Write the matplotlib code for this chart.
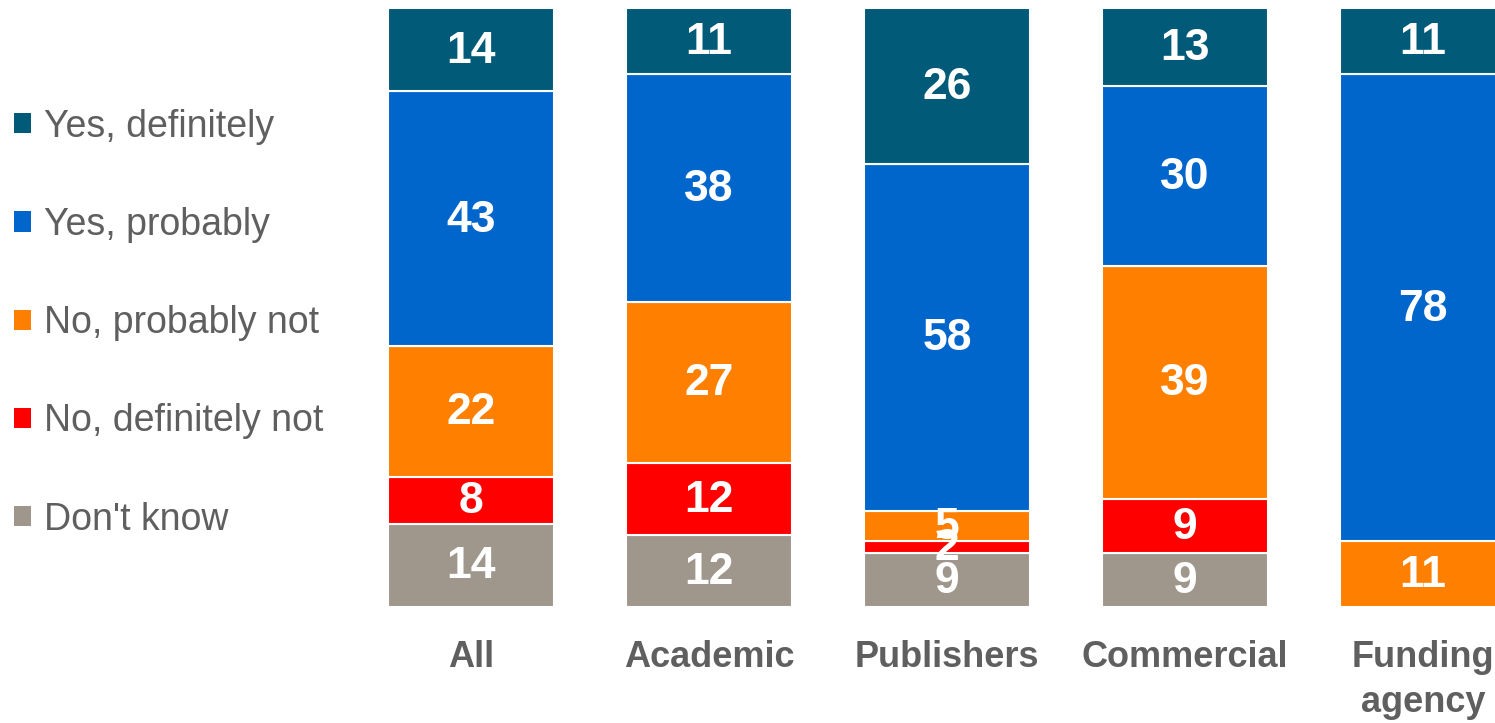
import matplotlib.pyplot as plt
from matplotlib.patches import Patch
import numpy as np

plt.rcParams['font.family'] = ['Liberation Sans', 'DejaVu Sans']

categories = ['All', 'Academic', 'Publishers', 'Commercial', 'Funding\nagency']
series = ['Yes, definitely', 'Yes, probably', 'No, probably not',
          'No, definitely not', "Don't know"]

# values per series, one per category (percent)
dont_know = [14, 12, 9, 9, 0]
no_def = [8, 12, 2, 9, 0]
no_prob = [22, 27, 5, 39, 11]
yes_prob = [43, 38, 58, 30, 78]
yes_def = [14, 11, 26, 13, 11]

colors = ['#005A78', '#0066CC', '#FF8000', '#FF0000', '#A0978C']
text_grey = '#5F5F5F'

fig = plt.figure(figsize=(14.95, 7.23), dpi=100)
ax = fig.add_axes([360 / 1495, 1 - 607 / 723, (1495 - 360) / 1495, (607 - 8) / 723])

x = np.arange(len(categories))
stack = [dont_know, no_def, no_prob, yes_prob, yes_def]
stack_cols = colors[::-1]
totals = np.sum(np.array(stack, dtype=float), axis=0)

bottom = np.zeros(len(categories))
for vals, col in zip(stack, stack_cols):
    v = np.array(vals, dtype=float) / totals * 100
    ax.bar(x, v, width=0.70, bottom=bottom, color=col,
           edgecolor='white', linewidth=1.5)
    for xi, b, h, raw in zip(x, bottom, v, vals):
        if raw > 0:
            ax.text(xi, b + h / 2 + 0.5, str(raw), ha='center', va='center_baseline',
                    color='white', fontsize=32, fontweight='bold')
    bottom += v

ax.set_xlim(-(471 - 360) / 238, (1495 - 471) / 238)
ax.set_ylim(0, 100)
ax.set_xticks(x)
ax.set_xticklabels(categories, fontsize=26, fontweight='bold', color=text_grey,
                   linespacing=1.35)
ax.tick_params(axis='x', length=0, pad=24)
ax.set_yticks([])
for s in ax.spines.values():
    s.set_visible(False)

handles = [Patch(facecolor=c, edgecolor='none') for c in colors]
fig.legend(handles, series, loc='upper left', bbox_to_anchor=(-0.008, 0.886),
           frameon=False, fontsize=27, labelcolor=text_grey,
           handlelength=0.45, handleheight=0.45, handletextpad=0.35,
           labelspacing=1.66, borderaxespad=0.3)

fig.savefig('out.png', dpi=100)
